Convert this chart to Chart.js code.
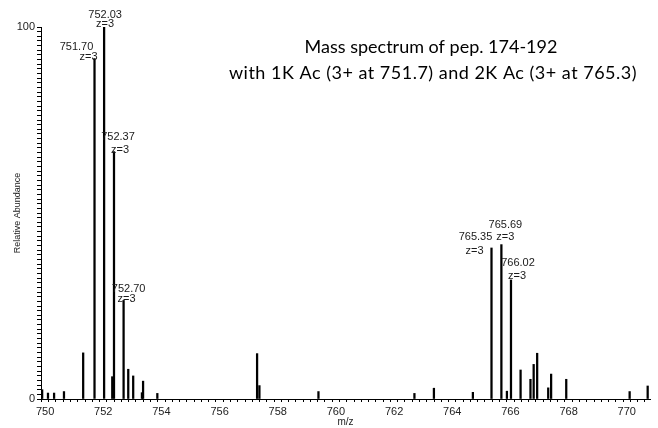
<!doctype html>
<html lang="en">
<head>
<meta charset="utf-8">
<title>Mass spectrum</title>
<script src="https://cdn.jsdelivr.net/npm/chart.js@4.4.0/dist/chart.umd.min.js"></script>
<style>
  html, body { margin: 0; padding: 0; background: #fff; }
  canvas { display: block; }
</style>
</head>
<body>
<canvas id="chart" width="658" height="428"></canvas>
<script>
// peaks (m/z, relative abundance)
var peakMz = [749.90, 750.10, 750.31, 750.65, 751.31, 751.70, 752.03, 752.31, 752.37, 752.70,
              752.86, 753.03, 753.33, 753.37, 753.86, 757.29, 757.37, 759.40, 762.70, 763.37,
              764.71, 765.35, 765.69, 765.88, 766.02, 766.35, 766.69, 766.80, 766.92, 767.30,
              767.40, 767.92, 770.10, 770.72];
var peakInt = [2.5, 1.6, 1.6, 2.0, 12.4, 91.5, 100, 6.0, 66.5, 26.5,
               8.0, 6.2, 1.7, 4.8, 1.5, 12.2, 3.6, 2.0, 1.5, 2.9,
               1.8, 40.6, 41.5, 2.1, 32.0, 7.8, 5.3, 9.3, 12.3, 3.0,
               6.7, 5.3, 2.0, 3.5];

// annotated peaks
var labelMz = [751.70, 752.03, 752.37, 752.70, 765.35, 765.69, 766.02];
var labelText = ['751.70', '752.03', '752.37', '752.70', '765.35', '765.69', '766.02'];
var labelCharge = ['z=3', 'z=3', 'z=3', 'z=3', 'z=3', 'z=3', 'z=3'];

var titleLines = ['Mass spectrum of pep. 174-192',
                  'with 1K Ac (3+ at 751.7) and 2K Ac (3+ at 765.3)'];

var pts = [];
for (var i = 0; i < peakMz.length; i++) {
    pts.push({ x: peakMz[i], y: peakInt[i] });
}

// offsets of the two label lines from the peak top: [dx1, dy1, dx2, dy2]
var labelOffsets = [[-18, -12, -6, -2], [1, -12, 1, -3], [4, -15, 6, -2], [5, -11, 3, -1],
                    [-16, -11, -17, 3], [4, -20, 4, -8], [7, -17, 6, -4]];

var annotations = {
    id: 'annotations',
    afterDatasetsDraw: function (chart) {
        var ctx = chart.ctx;
        var xs = chart.scales.x, ys = chart.scales.y;
        ctx.save();
        ctx.fillStyle = '#1a1a1a';
        ctx.textAlign = 'center';
        ctx.textBaseline = 'middle';
        ctx.font = '11px "Liberation Sans", Arial, sans-serif';
        for (var i = 0; i < labelMz.length; i++) {
            var idx = peakMz.indexOf(labelMz[i]);
            var px = xs.getPixelForValue(labelMz[i]);
            var py = ys.getPixelForValue(peakInt[idx]);
            var o = labelOffsets[i];
            ctx.fillText(labelText[i], px + o[0], py + o[1]);
            ctx.fillText(labelCharge[i], px + o[2], py + o[3]);
        }
        // figure caption
        ctx.fillStyle = '#000';
        ctx.font = '18px Lato, "Open Sans", sans-serif';
        ctx.fillText(titleLines[0], 431, 47);
        ctx.letterSpacing = '0.5px';
        ctx.fillText(titleLines[1], 433, 73);
        ctx.restore();
    }
};

new Chart(document.getElementById('chart').getContext('2d'), {
    type: 'bar',
    data: {
        datasets: [{
            data: pts,
            backgroundColor: '#000',
            borderWidth: 0,
            barThickness: 1.6
        }]
    },
    options: {
        responsive: false,
        animation: false,
        layout: { padding: { top: 27, right: 8, left: 0, bottom: 0 } },
        plugins: { legend: { display: false }, tooltip: { enabled: false } },
        scales: {
            x: {
                type: 'linear',
                offset: false,
                min: 749.86,
                max: 770.8,
                afterFit: function (s) { s.height = 29; },
                border: { color: '#000', width: 1 },
                grid: { drawOnChartArea: false, drawTicks: true, tickLength: 3, color: '#000' },
                ticks: {
                    stepSize: 0.25,
                    includeBounds: false,
                    autoSkip: false,
                    maxRotation: 0,
                    padding: 3,
                    color: '#222',
                    font: { family: '"Liberation Sans", Arial, sans-serif', size: 11 },
                    callback: function (v) { return v % 2 === 0 ? String(v) : ''; }
                },
                title: {
                    display: true,
                    text: 'm/z',
                    color: '#222',
                    padding: { top: 0, bottom: 0 },
                    font: { family: '"Liberation Sans", Arial, sans-serif', size: 10 }
                }
            },
            y: {
                min: 0,
                max: 100,
                afterFit: function (s) { s.width = 41; },
                border: { color: '#000', width: 1 },
                grid: { drawOnChartArea: false, drawTicks: true, tickLength: 4, color: '#000' },
                ticks: {
                    stepSize: 1.25,
                    autoSkip: false,
                    padding: 2,
                    color: '#222',
                    font: { family: '"Liberation Sans", Arial, sans-serif', size: 11 },
                    callback: function (v) { return (v === 0 || v === 100) ? String(v) : ''; }
                },
                title: {
                    display: true,
                    text: 'Relative Abundance',
                    color: '#222',
                    padding: { top: 12, bottom: 0 },
                    font: { family: '"Liberation Sans", Arial, sans-serif', size: 9 }
                }
            }
        }
    },
    plugins: [annotations]
});
</script>
</body>
</html>
